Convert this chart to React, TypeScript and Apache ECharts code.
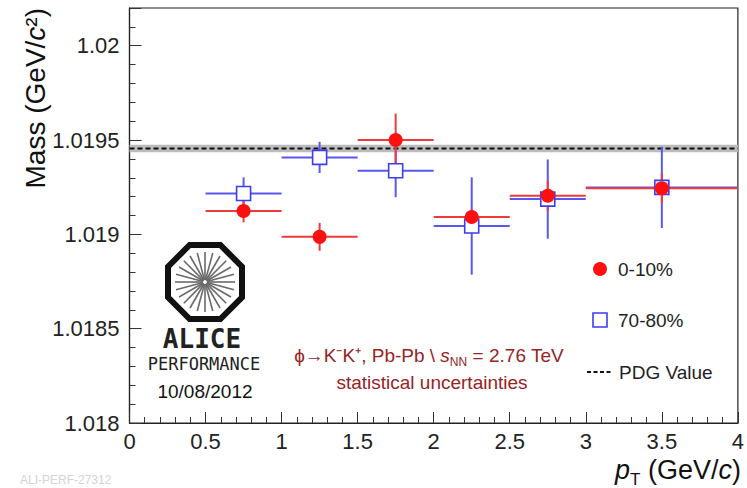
import React, { useEffect, useRef } from "react";
import * as echarts from "echarts";

// ---- data ----
const binLow = [0.5, 1.0, 1.5, 2.0, 2.5, 3.0];
const binHigh = [1.0, 1.5, 2.0, 2.5, 3.0, 4.0];
const ptCenters = [0.75, 1.25, 1.75, 2.25, 2.75, 3.5];
const mass0to10 = [1.019124, 1.018987, 1.0195, 1.019092, 1.019205, 1.019244];
const err0to10 = [0.00006, 0.000074, 0.00014, 0.00004, 0.00008, 0.00008];
const mass70to80 = [1.019217, 1.019408, 1.019337, 1.019044, 1.019187, 1.019249];
const err70to80 = [0.000085, 0.000083, 0.00014, 0.000258, 0.00021, 0.000215];
const pdgMass = 1.019455;
const pdgErr = 0.00002;
const xRange = [0, 4];
const yRange = [1.018, 1.0202];
const legendLabels = ["0-10%", "70-80%", "PDG Value"];

const RED = "#ff1010";
const RED_LINE = "#f03a3a";
const BLUE = "#3c3cf0";
const BLUE_LINE = "#5858f0";
const FONT = "'Liberation Sans', Arial, Helvetica, sans-serif";
const TEXT_RED = "#962424";

function errRows(mass: number[], err: number[]) {
  return ptCenters.map((x, i) => [binLow[i], binHigh[i], x, mass[i], err[i]]);
}

function errorRenderer(color: string) {
  return (_params: any, api: any) => {
    const xl = api.value(0), xh = api.value(1), xc = api.value(2), y = api.value(3), e = api.value(4);
    const pL = api.coord([xl, y]);
    const pH = api.coord([xh, y]);
    const pT = api.coord([xc, y + e]);
    const pB = api.coord([xc, y - e]);
    const st = { stroke: color, lineWidth: 2 };
    return {
      type: "group",
      children: [
        { type: "line", shape: { x1: pL[0], y1: pL[1], x2: pH[0], y2: pH[1] }, style: st },
        { type: "line", shape: { x1: pT[0], y1: pT[1], x2: pB[0], y2: pB[1] }, style: st },
      ],
    };
  };
}

function logoGraphics() {
  const cx = 205, cy = 282;
  const R = 37 / Math.cos(Math.PI / 8);
  const pts: number[][] = [];
  for (let k = 0; k < 8; k++) {
    const a = Math.PI / 8 + (k * Math.PI) / 4;
    pts.push([cx + R * Math.cos(a), cy + R * Math.sin(a)]);
  }
  const spokes: any[] = [];
  for (let k = 0; k < 24; k++) {
    const a = (k * Math.PI) / 12;
    spokes.push({
      type: "line",
      shape: { x1: cx + 2 * Math.cos(a), y1: cy + 2 * Math.sin(a), x2: cx + 30 * Math.cos(a), y2: cy + 30 * Math.sin(a) },
      style: { stroke: "#6a6a6a", lineWidth: 1.6 },
    });
  }
  return [
    { type: "polygon", shape: { points: pts }, style: { fill: "#fff", stroke: "#111", lineWidth: 6, lineJoin: "miter" } },
    ...spokes,
    { type: "text", x: cx - 3, y: 339, style: { text: "ALICE", font: "bold 26px 'DejaVu Sans Mono', monospace", fill: "#222", align: "center", verticalAlign: "middle" } },
    { type: "text", x: 204, y: 364, style: { text: "PERFORMANCE", font: "17px 'DejaVu Sans Mono', monospace", fill: "#222", align: "center", verticalAlign: "middle" } },
    { type: "text", x: 205, y: 391, style: { text: "10/08/2012", font: `19px ${FONT}`, fill: "#111", align: "center", verticalAlign: "middle" } },
  ];
}

export default function App() {
  const ref = useRef<HTMLDivElement>(null);
  useEffect(() => {
    if (!ref.current) return;
    const chart = echarts.init(ref.current, null, { renderer: "svg" });
    const fmt = (v: number) => {
      const k = v / 0.0005;
      if (Math.abs(k - Math.round(k)) > 1e-6) return "";
      return String(parseFloat(v.toFixed(4)));
    };
    chart.setOption({
      animation: false,
      backgroundColor: "#fff",
      grid: { left: 129.5, right: 8.5, top: 8, bottom: 65, show: true, borderColor: "#222", borderWidth: 1.2, backgroundColor: "transparent" },
      xAxis: {
        type: "value",
        min: xRange[0],
        max: xRange[1],
        interval: 0.5,
        axisLine: { show: true, lineStyle: { color: "#222", width: 1.2 } },
        axisTick: { show: true, inside: true, length: 11, lineStyle: { color: "#333", width: 1 } },
        minorTick: { show: true, splitNumber: 5, length: 6, lineStyle: { color: "#333", width: 1 } },
        splitLine: { show: false },
        axisLabel: { fontSize: 22, fontFamily: FONT, color: "#222", margin: 7, formatter: (v: number) => String(parseFloat(v.toFixed(2))) },
      },
      yAxis: {
        type: "value",
        min: yRange[0],
        max: yRange[1],
        interval: 0.0005,
        axisLine: { show: true, lineStyle: { color: "#222", width: 1.2 } },
        axisTick: { show: true, inside: true, length: 12, lineStyle: { color: "#333", width: 1 } },
        minorTick: { show: true, splitNumber: 5, length: 6, lineStyle: { color: "#333", width: 1 } },
        splitLine: { show: false },
        axisLabel: { fontSize: 22, fontFamily: FONT, color: "#222", margin: 10, formatter: fmt, showMaxLabel: false },
      },
      series: [
        {
          type: "line",
          name: "PDG Value",
          data: [[xRange[0], pdgMass], [xRange[1], pdgMass]],
          symbol: "none",
          lineStyle: { color: "#111", width: 2, type: [5, 3] },
          z: 3,
          markArea: {
            silent: true,
            itemStyle: { color: "#bcbcbc" },
            data: [[{ yAxis: pdgMass - pdgErr }, { yAxis: pdgMass + pdgErr }]],
          },
        },
        { type: "custom", name: "err70", renderItem: errorRenderer(BLUE_LINE), data: errRows(mass70to80, err70to80), z: 4 },
        { type: "custom", name: "err0", renderItem: errorRenderer(RED_LINE), data: errRows(mass0to10, err0to10), z: 5 },
        {
          type: "scatter",
          name: "70-80%",
          data: ptCenters.map((x, i) => [x, mass70to80[i]]),
          symbol: "rect",
          symbolSize: 14,
          itemStyle: { color: "#fff", borderColor: BLUE, borderWidth: 1.6, opacity: 1 },
          z: 6,
        },
        {
          type: "scatter",
          name: "0-10%",
          data: ptCenters.map((x, i) => [x, mass0to10[i]]),
          symbol: "circle",
          symbolSize: 14,
          itemStyle: { color: RED, opacity: 1 },
          z: 7,
        },
      ],
      graphic: [
        // y-axis title
        {
          type: "text",
          x: 35,
          y: 8,
          rotation: Math.PI / 2,
          style: {
            text: "Mass (GeV/{i|c}²)",
            font: `28px ${FONT}`,
            fill: "#111",
            align: "right",
            verticalAlign: "middle",
            rich: { i: { font: `italic 28px ${FONT}`, fill: "#111" } },
          },
        },
        // x-axis title
        {
          type: "text",
          x: 741,
          y: 470,
          style: {
            text: "{p|p}{t|T}{n| (GeV/}{p|c}{n|)}",
            align: "right",
            verticalAlign: "middle",
            rich: {
              p: { font: `italic 27px ${FONT}`, fill: "#111", lineHeight: 36 },
              t: { font: `17px ${FONT}`, fill: "#111", lineHeight: 16, verticalAlign: "bottom" },
              n: { font: `27px ${FONT}`, fill: "#111", lineHeight: 36 },
            },
          },
        },
        ...logoGraphics(),
        // decay / system text
        {
          type: "text",
          x: 429,
          y: 355,
          style: {
            text: "{n|ϕ→K⁻K⁺, Pb-Pb \\ }{i|s}{s|NN}{n| = 2.76 TeV}",
            align: "center",
            verticalAlign: "middle",
            rich: {
              n: { font: `19px ${FONT}`, fill: TEXT_RED, lineHeight: 26 },
              i: { font: `italic 19px ${FONT}`, fill: TEXT_RED, lineHeight: 26 },
              s: { font: `12px ${FONT}`, fill: TEXT_RED, lineHeight: 12, verticalAlign: "bottom" },
            },
          },
        },
        {
          type: "text",
          x: 432,
          y: 382,
          style: { text: "statistical uncertainties", font: `19px ${FONT}`, fill: TEXT_RED, align: "center", verticalAlign: "middle" },
        },
        // legend
        { type: "circle", shape: { cx: 600, cy: 269, r: 7 }, style: { fill: RED } },
        { type: "text", x: 618, y: 269, style: { text: legendLabels[0], font: `19px ${FONT}`, fill: "#222", verticalAlign: "middle" } },
        { type: "rect", shape: { x: 593, y: 313, width: 14, height: 14 }, style: { fill: "#fff", stroke: BLUE, lineWidth: 1.6 } },
        { type: "text", x: 618, y: 320, style: { text: legendLabels[1], font: `19px ${FONT}`, fill: "#222", verticalAlign: "middle" } },
        { type: "line", shape: { x1: 587, y1: 372, x2: 613, y2: 372 }, style: { stroke: "#111", lineWidth: 2, lineDash: [4, 2.5] } },
        { type: "text", x: 619, y: 372, style: { text: legendLabels[2], font: `19px ${FONT}`, fill: "#222", verticalAlign: "middle" } },
        // faint footer
        { type: "text", x: 20, y: 474, style: { text: "ALI-PERF-27312", font: `12px ${FONT}`, fill: "#d4d4d4", verticalAlign: "top" } },
      ],
    });
    return () => chart.dispose();
  }, []);
  return <div ref={ref} style={{ position: "fixed", left: 0, top: 0, width: 747, height: 488 }} />;
}
